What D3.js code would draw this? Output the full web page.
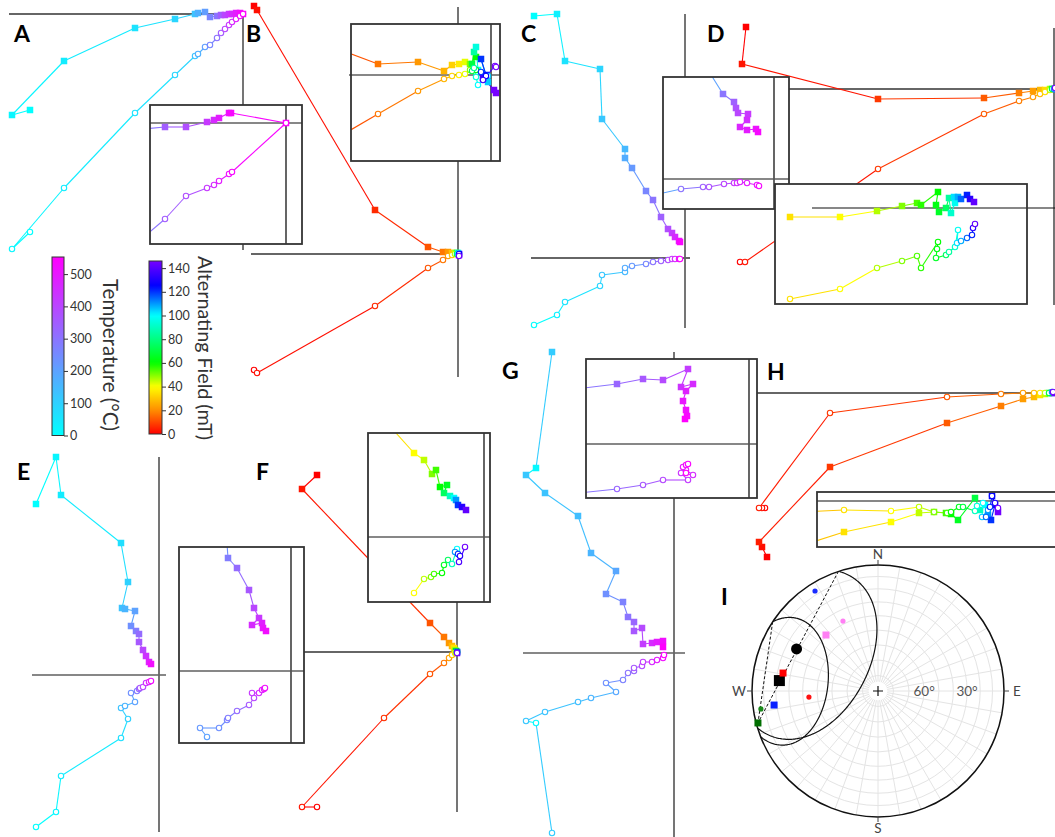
<!DOCTYPE html>
<html>
<head>
<meta charset="utf-8">
<script src="https://cdn.jsdelivr.net/npm/d3@7"></script>
<style>
  html, body { margin: 0; padding: 0; background: #fff; }
  svg { display: block; font-family: Lato, "Open Sans", sans-serif; }
</style>
</head>
<body>
<svg id="fig" width="1055" height="837"></svg>
<script>
// ---------------------------------------------------------------------------
// Demagnetisation data. Each row: [step, x, y]; step is °C (thermal) or mT (AF),
// x / y are the projected components (arbitrary moment units, origin at 0).
// "_hor" rows are the horizontal projection (filled squares),
// "_ver" rows the vertical projection (open circles), "_z" rows the close-ups.
// ---------------------------------------------------------------------------
const tempTicks = [0, 100, 200, 300, 400, 500];
const afTicks = [0, 20, 40, 60, 80, 100, 120, 140];

const A_hor = [[0,-21.3,-9.6],[20,-23.1,-10.1],[40,-17.9,-4.7],[60,-10.8,-1.4],[90,-6.8,-0.5],[130,-4.8,0],[170,-4.5,0.1],[210,-3.8,0.2],[260,-3.3,-0.3],[300,-2.6,-0.2],[350,-2.2,-0.1],[400,-1.8,-0.1],[430,-1.4,0],[460,-1.1,0],[490,-0.7,0.1],[520,-0.3,0.1],[550,0,0]];
const A_ver = [[0,-21.3,-21.8],[20,-23.1,-23.5],[40,-17.9,-17.4],[60,-10.8,-9.9],[90,-6.8,-6.1],[130,-4.8,-4.2],[170,-4.5,-4.0],[210,-3.8,-3.3],[260,-3.3,-3.1],[300,-2.6,-2.4],[350,-2.2,-1.9],[400,-1.8,-1.5],[430,-1.4,-1.1],[460,-1.1,-0.8],[490,-0.7,-0.5],[520,-0.3,-0.2],[550,0,0]];
const A_hor_z = [[300,-16.6,-0.8],[350,-12.1,-0.4],[380,-10.0,-0.4],[430,-7.9,0.1],[460,-7.2,0.3],[490,-6.7,0.5],[520,-5.7,1.0],[535,-5.5,1.0],[550,0,0]];
const A_ver_z = [[300,-16.6,-13.4],[350,-12.1,-9.6],[380,-10.0,-7.3],[430,-7.9,-6.5],[460,-7.2,-6.2],[490,-6.7,-5.8],[520,-5.7,-5.1],[535,-5.4,-4.9],[550,0,0]];

const B_hor = [[0,-20.4,24.8],[2,-20.1,24.4],[6,-8.3,4.4],[12,-3.0,0.7],[17,-1.5,0.2],[22,-1.0,0.2],[30,-0.6,0.1],[45,-0.3,0.1],[70,-0.1,0.1],[100,0,0.1],[125,0.1,0],[145,0.1,-0.1]];
const B_ver = [[0,-20.4,-11.6],[2,-20.1,-11.9],[6,-8.3,-5.2],[12,-3.0,-1.4],[17,-1.5,-0.6],[22,-1.0,-0.2],[30,-0.6,-0.1],[45,-0.3,0],[70,-0.1,0],[100,0,0],[125,0.1,0],[145,0.1,-0.2]];
const B_hor_z = [[12,-16.1,2.9],[17,-11.3,1.1],[22,-7.3,1.3],[27,-4.7,0.4],[32,-3.9,1.0],[37,-3.2,1.1],[42,-2.6,1.3],[50,-2.1,1.1],[60,-1.5,1.8],[70,-1.9,1.1],[85,-1.7,2.3],[95,-1.5,2.8],[100,-1.3,0.5],[105,-0.3,-0.7],[120,-1.0,1.6],[125,-0.5,0],[135,-0.8,-0.3],[145,0.3,-1.5],[146,0.5,-1.8]];
const B_ver_z = [[12,-16.1,-6.7],[17,-11.3,-3.9],[22,-7.3,-1.6],[27,-4.7,-0.4],[32,-3.9,-0.1],[37,-3.2,0],[42,-2.6,0.1],[50,-2.1,0.5],[60,-1.5,0.5],[70,-1.9,0.4],[85,-1.7,0.7],[95,-1.5,-0.2],[100,-1.3,-1.0],[105,-0.3,-0.1],[120,-1.0,0.3],[125,-0.5,-0.1],[135,-0.8,-0.5],[145,0.4,0.9],[146,0.5,0.8]];

const C_hor = [[0,-15.1,24.2],[30,-12.8,24.4],[60,-12.0,19.7],[90,-8.5,18.9],[120,-8.3,13.9],[150,-6.0,10.9],[180,-6.0,10.0],[220,-5.3,9.0],[260,-3.9,6.7],[300,-3.2,5.8],[340,-2.4,4.1],[380,-1.7,2.9],[420,-1.3,2.5],[460,-1.0,2.1],[500,-0.6,1.7],[540,-0.5,1.6]];
const C_ver = [[0,-15.1,-6.7],[30,-12.8,-5.7],[60,-12.0,-4.4],[90,-8.5,-2.8],[120,-8.3,-1.7],[150,-6.0,-1.4],[180,-6.0,-1.0],[220,-5.3,-0.8],[260,-3.9,-0.6],[300,-3.2,-0.4],[340,-2.4,-0.3],[380,-1.7,-0.2],[420,-1.3,-0.1],[460,-1.0,-0.1],[500,-0.6,-0.1],[540,-0.5,-0.1]];
const C_hor_z = [[200,-7.1,11.7],[300,-5.1,8.5],[340,-4.0,7.7],[370,-3.8,7.1],[400,-3.6,6.6],[430,-2.6,6.5],[450,-2.7,5.9],[470,-3.4,5.2],[490,-2.7,4.9],[510,-1.8,5.0],[530,-1.6,4.7]];
const C_ver_z = [[200,-12.9,-1.8],[300,-9.3,-1.0],[340,-7.1,-0.8],[370,-6.5,-0.8],[400,-5.0,-0.5],[430,-4.0,-0.4],[450,-3.7,-0.4],[470,-3.4,-0.3],[490,-2.7,-0.4],[510,-1.7,-0.6],[530,-1.5,-0.7]];

const D_hor = [[0,-30.8,6.2],[3,-31.2,2.5],[8,-17.6,-1.0],[13,-7.0,-0.9],[18,-3.5,-0.4],[23,-2.1,-0.2],[28,-1.4,-0.1],[34,-0.9,-0.1],[45,-0.4,0],[70,-0.2,0],[110,0,0],[145,0.1,0]];
const D_ver = [[0,-31.4,-17.3],[3,-30.9,-17.3],[8,-17.6,-8.0],[13,-7.0,-2.5],[18,-3.5,-1.2],[23,-2.1,-0.8],[28,-1.4,-0.5],[34,-0.9,-0.3],[45,-0.4,-0.1],[70,-0.2,0],[110,0,0],[145,0.1,0.1]];
const D_hor_z = [[35,-20.0,-0.9],[40,-15.0,-0.9],[46,-11.3,-0.3],[50,-8.8,0.2],[54,-7.3,0.5],[57,-6.9,0.3],[60,-5.2,1.6],[63,-5.4,0.3],[66,-5.1,-0.4],[75,-4.4,0],[85,-4.1,1.0],[92,-3.9,-0.5],[98,-3.5,0.5],[103,-3.6,1.1],[108,-3.2,1.1],[115,-2.9,0.9],[122,-2.3,1.3],[132,-2.0,0.9],[142,-1.6,0.6]];
const D_ver_z = [[35,-20.0,-9.1],[40,-15.0,-8.1],[46,-11.3,-6.0],[50,-8.8,-5.3],[54,-7.3,-4.8],[57,-6.9,-6.0],[60,-5.2,-3.4],[63,-5.3,-4.1],[66,-5.4,-5.0],[75,-4.4,-4.7],[85,-4.1,-4.4],[92,-3.5,-3.9],[98,-3.2,-2.2],[103,-3.3,-3.5],[108,-2.9,-3.3],[115,-2.3,-3.0],[122,-1.8,-2.7],[132,-1.7,-2.0],[142,-1.5,-1.6]];

const E_hor = [[0,-12.3,17.1],[20,-10.3,21.8],[40,-9.8,18.0],[70,-3.8,13.2],[100,-3.1,9.3],[130,-3.7,6.7],[160,-3.4,6.6],[200,-2.4,6.4],[240,-2.8,4.9],[280,-2.3,4.4],[320,-2.0,4.1],[360,-2.0,3.3],[400,-1.6,2.5],[440,-1.3,1.9],[480,-1.0,1.3],[520,-0.8,1.1]];
const E_ver = [[0,-12.3,-15.2],[20,-10.3,-13.7],[40,-9.8,-10.1],[70,-3.8,-6.3],[100,-3.1,-4.4],[130,-3.8,-3.3],[160,-3.4,-3.1],[200,-2.4,-2.7],[240,-2.8,-1.8],[280,-2.2,-1.6],[320,-2.0,-1.4],[360,-1.9,-1.3],[400,-1.6,-1.2],[440,-1.3,-0.8],[480,-1.0,-0.7],[520,-0.8,-0.6]];
const E_hor_z = [[240,-6.5,14.1],[280,-6.3,11.3],[320,-5.4,10.3],[360,-4.2,8.1],[400,-3.7,6.3],[430,-3.2,5.3],[460,-3.9,4.6],[480,-2.9,4.8],[500,-2.8,4.3],[520,-2.5,4.0]];
const E_ver_z = [[200,-8.4,-6.6],[220,-9.1,-5.7],[240,-7.2,-5.7],[260,-6.4,-4.9],[280,-6.3,-4.7],[320,-5.4,-4.0],[360,-4.2,-3.4],[400,-3.7,-2.7],[430,-3.9,-2.2],[460,-3.2,-2.2],[480,-2.9,-1.9],[500,-2.7,-1.8],[520,-2.6,-1.7]];

const F_hor = [[0,-14.0,17.7],[3,-15.5,16.3],[7,-7.3,7.7],[12,-2.7,2.9],[17,-1.3,1.5],[22,-0.8,0.9],[28,-0.5,0.6],[35,-0.3,0.4],[45,-0.2,0.2],[60,-0.1,0.1],[90,0,0],[120,0,0],[145,0,-0.1]];
const F_ver = [[0,-14.0,-15.5],[3,-15.5,-15.5],[7,-7.3,-6.6],[12,-2.7,-2.2],[17,-1.3,-1.1],[22,-0.8,-0.6],[28,-0.5,-0.3],[35,-0.2,-0.1],[45,-0.1,-0.1],[60,0,0],[90,0,0],[120,0,0],[145,0,-0.1]];
const F_hor_z = [[35,-9.7,11.4],[40,-7.0,8.4],[45,-6.0,7.7],[50,-5.2,6.3],[55,-4.8,6.7],[60,-4.4,5.0],[65,-3.7,5.2],[75,-4.0,4.4],[90,-3.4,4.1],[100,-3.0,3.9],[110,-2.8,3.7],[120,-2.6,3.2],[132,-2.2,3.0],[142,-1.8,2.7]];
const F_ver_z = [[40,-7.0,-5.6],[45,-6.0,-4.2],[50,-5.3,-4.0],[55,-5.0,-3.7],[60,-4.2,-3.6],[65,-4.0,-2.8],[75,-3.6,-2.3],[90,-3.2,-2.7],[100,-2.7,-1.2],[110,-2.9,-1.5],[120,-2.6,-1.7],[132,-2.4,-1.9],[138,-2.5,-2.5],[145,-1.9,-1.0]];

const G_hor = [[110,-12.2,30.1],[10,-13.8,18.5],[120,-14.8,17.8],[130,-12.9,16.0],[140,-9.6,13.7],[160,-8.3,10.0],[190,-5.8,8.2],[240,-6.8,5.9],[270,-5.1,5.1],[300,-4.6,3.6],[330,-4.0,3.1],[360,-4.0,2.2],[390,-3.2,2.5],[420,-3.1,0.9],[460,-2.2,1.0],[490,-1.7,1.1],[520,-1.1,1.2],[550,-1.1,0.6]];
const G_ver = [[110,-12.2,-18.0],[10,-13.8,-7.0],[120,-14.8,-6.8],[130,-12.9,-5.9],[140,-9.6,-4.9],[160,-8.3,-4.5],[190,-5.8,-3.9],[240,-6.8,-3.0],[270,-5.1,-2.7],[300,-4.6,-2.0],[330,-4.0,-1.8],[360,-4.0,-1.5],[390,-3.2,-1.3],[420,-3.1,-0.9],[460,-2.2,-0.9],[490,-1.7,-0.7],[520,-1.1,-0.5],[550,-1.0,-0.2]];
const G_hor_z = [[300,-18.9,5.3],[330,-13.2,6.0],[360,-10.6,6.5],[390,-8.6,6.4],[420,-6.1,7.5],[440,-6.8,5.7],[460,-5.6,6.0],[480,-6.3,5.3],[500,-6.6,4.3],[520,-6.3,3.4],[535,-6.2,2.8],[550,-6.4,2.5]];
const G_ver_z = [[300,-18.9,-5.1],[330,-13.2,-4.5],[360,-10.6,-4.1],[390,-8.6,-3.6],[420,-6.1,-3.6],[440,-6.8,-2.9],[460,-5.6,-3.1],[480,-6.3,-2.6],[500,-6.6,-2.3],[520,-6.3,-2.1],[535,-6.1,-2.0],[550,-6.3,-2.9]];

const H_hor = [[0,-28.5,-16.4],[2,-29.0,-15.4],[4,-29.3,-14.9],[8,-22.2,-7.4],[13,-10.5,-3.0],[18,-5.1,-1.3],[23,-2.9,-0.6],[28,-1.8,-0.4],[35,-1.2,-0.2],[45,-0.7,-0.1],[70,-0.3,0],[110,0,0],[145,0.1,0]];
const H_ver = [[0,-28.7,-11.5],[2,-29.0,-11.5],[4,-29.3,-11.5],[8,-22.2,-2.0],[13,-10.5,-0.4],[18,-5.1,-0.1],[23,-2.9,0],[28,-1.8,0],[35,-1.2,0],[45,-0.7,0],[70,-0.3,0],[110,0,0.1],[145,0.1,0.1]];
const H_hor_z = [[30,-21.0,-4.5],[35,-16.6,-3.1],[40,-11.9,-2.1],[45,-9.1,-1.2],[50,-7.6,-1.1],[55,-6.4,-1.2],[60,-5.9,-1.3],[65,-5.2,-1.9],[70,-3.5,0.3],[90,-3.0,-0.9],[100,-2.5,-0.4],[110,-2.2,-1.4],[120,-1.9,-1.9],[128,-1.5,-0.4],[125,-1.8,0.5],[145,-1.2,-1.1]];
const H_ver_z = [[30,-21.0,-1.1],[35,-16.6,-0.9],[40,-11.9,-1.0],[45,-9.1,-0.6],[50,-7.6,-1.1],[55,-6.3,-1.2],[60,-5.9,-1.1],[65,-5.1,-0.6],[70,-4.7,-0.6],[90,-3.5,-1.0],[95,-3.3,-0.5],[100,-2.7,-0.2],[105,-2.8,-1.6],[110,-2.2,-0.9],[115,-2.4,-1.6],[120,-2.0,-0.6],[125,-1.8,0.5],[130,-1.5,-0.2],[145,-1.2,-0.7]];

// Site directions for the equal-area net (declination, inclination in degrees)
const netSites = ["S1", "S2", "S3", "S4"];
const netDotDec = [327.8, 333.4, 265.0, 261.3];
const netDotInc = [6.9, 37.9, 44.2, 6.7];
const netSqDec = [262.3, 317.1, 280.7, 255.1];
const netSqInc = [17.9, 39.2, 24.3, 1.6];
const netGuides = [[[341.7, 0], [255.1, 1.6]], [[303.3, 0], [255.1, 1.6]]];
const netRingTicks = [60, 30];

// ---------------------------------------------------------------------------
const svg = d3.select("#fig");
const defs = svg.append("defs");

const tempColor = d3.scaleLinear().domain([0, 550]).range(["#00ffff", "#ff00ff"]);
const afHue = d3.scaleLinear().domain([0, 20, 40, 60, 100, 125, 146]).range([0, 33, 60, 120, 180, 240, 268]).clamp(true);
const afColor = s => d3.hsl(afHue(s), 1, 0.5).formatHex();

// Layout of every projection plot (pixel positions of origin and axis lines)
const mainViews = [
  { hor: A_hor, ver: A_ver, col: tempColor, ox: 243, oy: 14,  hx: [9, 245],   vy: [13, 250] },
  { hor: B_hor, ver: B_ver, col: afColor,   ox: 458, oy: 254, hx: [251, 458], vy: [7, 377] },
  { hor: C_hor, ver: C_ver, col: tempColor, ox: 685, oy: 258, hx: [531, 690], vy: [14, 328] },
  { hor: D_hor, ver: D_ver, col: afColor,   ox: 1054, oy: 89, hx: [789, 1055], vy: [28, 305] },
  { hor: E_hor, ver: E_ver, col: tempColor, ox: 159, oy: 675, hx: [32, 166],  vy: [457, 832], hThin: true },
  { hor: F_hor, ver: F_ver, col: afColor,   ox: 457, oy: 652, hx: [304, 457], vy: [433, 812] },
  { hor: G_hor, ver: G_ver, col: tempColor, ox: 674, oy: 653, hx: [523, 685], vy: [352, 837], hThin: true },
  { hor: H_hor, ver: H_ver, col: afColor,   ox: 1052, oy: 393, hx: [757, 1055], vy: null }
];
const insetViews = [
  { hor: A_hor_z, ver: A_ver_z, col: tempColor, ox: 286, oy: 123, box: [150, 105, 302, 244], hx: [150, 302], vy: [105, 244] },
  { hor: B_hor_z, ver: B_ver_z, col: afColor,   ox: 491, oy: 75,  box: [351, 24, 500, 161],  hx: [349, 500], vy: [24, 161] },
  { hor: C_hor_z, ver: C_ver_z, col: tempColor, ox: 774, oy: 179, box: [663, 77, 789, 209],  hx: [663, 789], vy: [77, 209] },
  { hor: D_hor_z, ver: D_ver_z, col: afColor,   ox: 990, oy: 208, box: [775, 184, 1027, 304], hx: [812, 1055], vy: null },
  { hor: E_hor_z, ver: E_ver_z, col: tempColor, ox: 291, oy: 671, box: [179, 547, 304, 743], hx: [179, 304], vy: [547, 743] },
  { hor: F_hor_z, ver: F_ver_z, col: afColor,   ox: 484, oy: 537, box: [368, 433, 490, 602], hx: [368, 490], vy: [433, 602] },
  { hor: G_hor_z, ver: G_ver_z, col: tempColor, ox: 749, oy: 444, box: [586, 359, 757, 498], hx: [586, 757], vy: [359, 498] },
  { hor: H_hor_z, ver: H_ver_z, col: afColor,   ox: 1010, oy: 501, box: [817, 492, 1062, 547], hx: [817, 1055], vy: null }
];
const PX_PER_UNIT = 10;
const SQ = 6.5;   // square marker side
const CR = 2.7;   // circle marker radius

function scalesFor(v) {
  return {
    x: d3.scaleLinear().domain([0, 1]).range([v.ox, v.ox + PX_PER_UNIT]),
    y: d3.scaleLinear().domain([0, 1]).range([v.oy, v.oy - PX_PER_UNIT])
  };
}

// segments take the colour of the step they start from
function drawData(g, v) {
  const { x, y } = scalesFor(v);
  [v.hor, v.ver].forEach(rows => {
    g.append("g").selectAll("line").data(d3.pairs(rows)).join("line")
      .attr("x1", d => x(d[0][1])).attr("y1", d => y(d[0][2]))
      .attr("x2", d => x(d[1][1])).attr("y2", d => y(d[1][2]))
      .attr("stroke", d => v.col(d[0][0])).attr("stroke-width", 1.1);
  });
  g.append("g").selectAll("rect").data(v.hor).join("rect")
    .attr("x", d => x(d[1]) - SQ / 2).attr("y", d => y(d[2]) - SQ / 2)
    .attr("width", SQ).attr("height", SQ)
    .attr("fill", d => v.col(d[0]));
  g.append("g").selectAll("circle").data(v.ver).join("circle")
    .attr("cx", d => x(d[1])).attr("cy", d => y(d[2])).attr("r", CR)
    .attr("fill", "#fff").attr("stroke", d => v.col(d[0])).attr("stroke-width", 1.1);
}

function axisLines(g, v, hStyle, vStyle) {
  const { x, y } = scalesFor(v);
  if (v.hx) g.append("line").attr("x1", v.hx[0]).attr("x2", v.hx[1])
    .attr("y1", y(0)).attr("y2", y(0)).attr("stroke", hStyle[0]).attr("stroke-width", hStyle[1]);
  if (v.vy) g.append("line").attr("x1", x(0)).attr("x2", x(0))
    .attr("y1", v.vy[0]).attr("y2", v.vy[1]).attr("stroke", vStyle[0]).attr("stroke-width", vStyle[1]);
}

// main projections
mainViews.forEach(v => {
  const g = svg.append("g");
  axisLines(g, v, v.hThin ? ["#111", 1.2] : ["#666", 1.8], ["#666", 1.8]);
  drawData(g, v);
});

// close-up projections
insetViews.forEach((v, i) => {
  const [x0, y0, x1, y1] = v.box;
  const g = svg.append("g");
  g.append("rect").attr("x", x0).attr("y", y0).attr("width", x1 - x0).attr("height", y1 - y0).attr("fill", "#fff");
  const id = "clip" + i;
  defs.append("clipPath").attr("id", id).append("rect")
    .attr("x", x0).attr("y", y0).attr("width", x1 - x0).attr("height", y1 - y0);
  axisLines(g, v, ["#111", 1.2], ["#555", 1.8]);
  drawData(g.append("g").attr("clip-path", `url(#${id})`), v);
  g.append("rect").attr("x", x0).attr("y", y0).attr("width", x1 - x0).attr("height", y1 - y0)
    .attr("fill", "none").attr("stroke", "#333").attr("stroke-width", 1.8);
});

// panel letters
const panelLetters = [["A", 14, 42], ["B", 246, 42], ["C", 521, 42], ["D", 707, 42], ["E", 17, 480],
                      ["F", 256, 480], ["G", 502, 379], ["H", 767, 380], ["I", 721, 605]];
svg.append("g").selectAll("text").data(panelLetters).join("text")
  .attr("x", d => d[1]).attr("y", d => d[2]).text(d => d[0])
  .attr("font-size", 23).attr("font-weight", 700).attr("fill", "#000");

// colour bars
function colorBar(scaleColor, domainMax, ticks, x0, y0, w, h, title, tx, ty, fs, gid) {
  const grad = defs.append("linearGradient").attr("id", gid)
    .attr("x1", 0).attr("x2", 0).attr("y1", 1).attr("y2", 0);
  d3.range(0, 1.0001, 0.02).forEach(t => grad.append("stop")
    .attr("offset", t).attr("stop-color", scaleColor(t * domainMax)));
  svg.append("rect").attr("x", x0).attr("y", y0).attr("width", w).attr("height", h)
    .attr("fill", `url(#${gid})`).attr("stroke", "#333").attr("stroke-width", 1);
  const s = d3.scaleLinear().domain([0, domainMax]).range([y0 + h, y0]);
  const ax = svg.append("g").attr("transform", `translate(${x0 + w},0)`)
    .call(d3.axisRight(s).tickValues(ticks).tickSize(4).tickPadding(2).tickFormat(d3.format("d")));
  ax.select(".domain").remove();
  ax.selectAll("line").attr("stroke", "#333");
  ax.selectAll("text").attr("font-size", 12.5).attr("fill", "#333").attr("font-family", "Lato, sans-serif");
  svg.append("text").attr("transform", `translate(${tx},${ty}) rotate(90)`)
    .attr("text-anchor", "middle").attr("dominant-baseline", "central")
    .attr("font-size", fs).attr("fill", "#333").text(title);
}
colorBar(tempColor, 553, tempTicks, 52, 257, 12, 178.5, "Temperature (°C)", 111, 355, 20.5, "gT");
colorBar(afColor, 146, afTicks, 149, 261, 13, 173, "Alternating Field (mT)", 205, 348, 19.7, "gAF");

// ---------------------------------------------------------------------------
// Equal-area (lower hemisphere) net
// ---------------------------------------------------------------------------
const NC = { x: 878, y: 691, R: 126 };
const rad = Math.PI / 180;
const rScale = d3.scaleRadial().domain([0, 1]).range([0, NC.R]);
const proj = (dec, inc) => {
  const r = rScale(1 - Math.sin(inc * rad));
  return [NC.x + r * Math.sin(dec * rad), NC.y - r * Math.cos(dec * rad)];
};
const net = svg.append("g");

// grid
d3.range(10, 90, 10).forEach(inc => {
  net.append("circle").attr("cx", NC.x).attr("cy", NC.y).attr("r", rScale(1 - Math.sin(inc * rad)))
    .attr("fill", "none").attr("stroke", "#e4e4e4").attr("stroke-width", 1);
});
d3.range(0, 360, 10).forEach(dec => {
  const a = proj(dec, 84), b = proj(dec, 0);
  net.append("line").attr("x1", a[0]).attr("y1", a[1]).attr("x2", b[0]).attr("y2", b[1])
    .attr("stroke", "#e4e4e4").attr("stroke-width", 1);
});
net.append("circle").attr("cx", NC.x).attr("cy", NC.y).attr("r", NC.R)
  .attr("fill", "none").attr("stroke", "#111").attr("stroke-width", 1.5);

// cardinal ticks and labels
const cardinals = [["N", 0], ["E", 90], ["S", 180], ["W", 270]];
cardinals.forEach(([lab, dec]) => {
  const sx = Math.sin(dec * rad), sy = -Math.cos(dec * rad);
  net.append("line")
    .attr("x1", NC.x + sx * NC.R).attr("y1", NC.y + sy * NC.R)
    .attr("x2", NC.x + sx * (NC.R + 5)).attr("y2", NC.y + sy * (NC.R + 5))
    .attr("stroke", "#444").attr("stroke-width", 1);
  net.append("text")
    .attr("x", NC.x + sx * (NC.R + 13)).attr("y", NC.y + sy * (NC.R + 11))
    .attr("text-anchor", "middle").attr("dominant-baseline", "central")
    .attr("font-size", 13.5).attr("fill", "#444").text(lab);
});
netRingTicks.forEach(inc => {
  const p = proj(90, inc);
  net.append("text").attr("x", p[0]).attr("y", p[1]).attr("text-anchor", "middle")
    .attr("dominant-baseline", "central").attr("font-size", 13.5).attr("fill", "#555").text(inc + "°");
});
net.append("path").attr("d", `M${NC.x - 5},${NC.y}H${NC.x + 5}M${NC.x},${NC.y - 5}V${NC.y + 5}`)
  .attr("stroke", "#111").attr("stroke-width", 1.2);

// Fisher mean with alpha95
function fisherMean(decs, incs) {
  let n = 0, e = 0, d = 0;
  decs.forEach((D, i) => {
    const I = incs[i];
    n += Math.cos(I * rad) * Math.cos(D * rad);
    e += Math.cos(I * rad) * Math.sin(D * rad);
    d += Math.sin(I * rad);
  });
  const N = decs.length, R = Math.hypot(n, e, d);
  const a95 = Math.acos(1 - (N - R) / R * (Math.pow(20, 1 / (N - 1)) - 1)) / rad;
  return { dec: (Math.atan2(e, n) / rad + 360) % 360, inc: Math.asin(d / R) / rad, a95 };
}
function coneTrace(m) {
  const v = [Math.cos(m.inc * rad) * Math.cos(m.dec * rad), Math.cos(m.inc * rad) * Math.sin(m.dec * rad), Math.sin(m.inc * rad)];
  const cross = (a, b) => [a[1] * b[2] - a[2] * b[1], a[2] * b[0] - a[0] * b[2], a[0] * b[1] - a[1] * b[0]];
  let u = cross(v, [0, 0, 1]); const un = Math.hypot(...u); u = u.map(c => c / un);
  const w = cross(v, u);
  const ca = Math.cos(m.a95 * rad), sa = Math.sin(m.a95 * rad);
  return d3.range(0, 360.5, 1).map(t => {
    const ct = Math.cos(t * rad), st = Math.sin(t * rad);
    const p = [0, 1, 2].map(k => v[k] * ca + sa * (u[k] * ct + w[k] * st));
    const inc = Math.asin(Math.max(-1, Math.min(1, p[2]))) / rad;
    const dec = Math.atan2(p[1], p[0]) / rad;
    return { dec, inc };
  });
}
const dotMean = fisherMean(netDotDec, netDotInc);
const sqMean = fisherMean(netSqDec, netSqInc);
const coneLine = d3.line().defined(d => d.inc >= 0).x(d => proj(d.dec, d.inc)[0]).y(d => proj(d.dec, d.inc)[1]);
[dotMean, sqMean].forEach(m => {
  net.append("path").attr("d", coneLine(coneTrace(m))).attr("fill", "none")
    .attr("stroke", "#111").attr("stroke-width", 1.2);
});
netGuides.forEach(([a, b]) => {
  const p = proj(a[0], a[1]), q = proj(b[0], b[1]);
  net.append("line").attr("x1", p[0]).attr("y1", p[1]).attr("x2", q[0]).attr("y2", q[1])
    .attr("stroke", "#111").attr("stroke-width", 1).attr("stroke-dasharray", "3,2");
});

const siteDotColor = { S1: "#1a2cff", S2: "#ff80f4", S3: "#ff1010", S4: "#1a8a1a" };
const siteSqColor = { S1: "#0a22ff", S2: "#ff80f4", S3: "#ff0000", S4: "#006e00" };
// means
const mSq = proj(sqMean.dec, sqMean.inc), mDot = proj(dotMean.dec, dotMean.inc);
net.append("rect").attr("x", mSq[0] - 5.5).attr("y", mSq[1] - 5.5).attr("width", 11).attr("height", 11).attr("fill", "#000");
net.append("circle").attr("cx", mDot[0]).attr("cy", mDot[1]).attr("r", 5.5).attr("fill", "#000");
// site directions
net.append("g").selectAll("rect").data(netSites).join("rect")
  .attr("x", (s, i) => proj(netSqDec[i], netSqInc[i])[0] - 3.5)
  .attr("y", (s, i) => proj(netSqDec[i], netSqInc[i])[1] - 3.5)
  .attr("width", 7).attr("height", 7).attr("fill", s => siteSqColor[s]);
net.append("g").selectAll("circle").data(netSites).join("circle")
  .attr("cx", (s, i) => proj(netDotDec[i], netDotInc[i])[0])
  .attr("cy", (s, i) => proj(netDotDec[i], netDotInc[i])[1])
  .attr("r", 2.6).attr("fill", s => siteDotColor[s]);
</script>
</body>
</html>
